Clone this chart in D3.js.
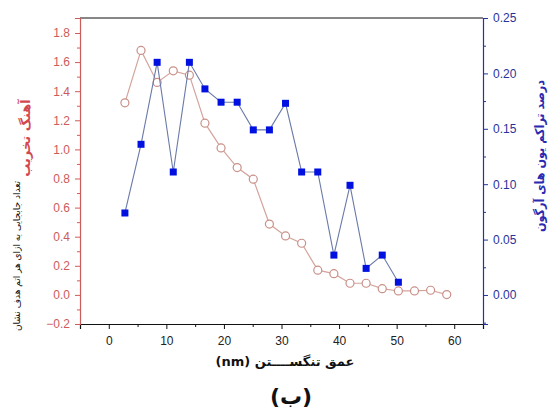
<!DOCTYPE html>
<html>
<head>
<meta charset="utf-8">
<script src="https://cdn.jsdelivr.net/npm/d3@7"></script>
<style>
  body { margin: 0; background: #fff; }
  text { font-family: "Liberation Sans", Arial, sans-serif; }
  .fa { font-family: "DejaVu Sans", sans-serif; }
</style>
</head>
<body>
<svg id="chart" width="549" height="412"></svg>
<script>
// depth in tungsten (nm)
var depth = [2.8, 5.6, 8.4, 11.2, 14.0, 16.7, 19.5, 22.3, 25.1, 27.9, 30.7,
             33.5, 36.3, 39.1, 41.9, 44.7, 47.5, 50.3, 53.1, 55.9, 58.7];
// damage rate (dpa), left axis
var damage = [1.32, 1.68, 1.46, 1.54, 1.51, 1.18, 1.01, 0.875, 0.795, 0.487, 0.405,
              0.355, 0.17, 0.146, 0.08, 0.08, 0.043, 0.027, 0.027, 0.032, 0.002];
// argon ion concentration, right axis (only first 18 depths)
var argon = [0.074, 0.136, 0.210, 0.111, 0.210, 0.186, 0.174, 0.174, 0.149,
             0.149, 0.173, 0.111, 0.111, 0.036, 0.099, 0.024, 0.036, 0.0115];

var xTicks = [0, 10, 20, 30, 40, 50, 60];
var leftTicks = [-0.2, 0, 0.2, 0.4, 0.6, 0.8, 1.0, 1.2, 1.4, 1.6, 1.8];
var rightTicks = [0, 0.05, 0.1, 0.15, 0.2, 0.25];

var redAxis = "#cc5b5b", blueAxis = "#27339a";

var svg = d3.select("#chart");
var m = {left: 80, right: 483, top: 18, bottom: 324};

var x = d3.scaleLinear().domain([-5, 65]).range([m.left, m.right]);
var yL = d3.scaleLinear().domain([-0.2, 1.903]).range([m.bottom, m.top]);
var yR = d3.scaleLinear().domain([-0.0262, 0.25]).range([m.bottom, m.top]);

// frame top
svg.append("line").attr("x1", m.left).attr("x2", m.right).attr("y1", m.top).attr("y2", m.top)
  .attr("stroke", "#111").attr("stroke-width", 1.2);

// x axis
var gx = svg.append("g").attr("transform", "translate(0," + m.bottom + ")")
  .call(d3.axisBottom(x).tickValues(xTicks).tickSize(5).tickPadding(7).tickFormat(d3.format("d")));
gx.select(".domain").attr("stroke", "#111").attr("stroke-width", 1.2);
gx.selectAll(".tick line").attr("stroke", "#111");
gx.selectAll("text").attr("font-size", 12).attr("fill", "#222").style("font-family", "Liberation Sans, Arial");
svg.append("g").attr("transform", "translate(0," + m.bottom + ")")
  .call(d3.axisBottom(x).tickValues([-5, 5, 15, 25, 35, 45, 55, 65]).tickSize(3).tickFormat(""))
  .call(function(g) { g.select(".domain").remove(); g.selectAll("line").attr("stroke", "#111"); });

// left axis
var gl = svg.append("g").attr("transform", "translate(" + m.left + ",0)")
  .call(d3.axisLeft(yL).tickValues(leftTicks).tickSize(5).tickPadding(5).tickFormat(d3.format(".1f")));
gl.select(".domain").attr("stroke", redAxis).attr("stroke-width", 1.2);
gl.selectAll(".tick line").attr("stroke", redAxis);
gl.selectAll("text").attr("font-size", 12).attr("fill", redAxis).style("font-family", "Liberation Sans, Arial");
svg.append("g").attr("transform", "translate(" + m.left + ",0)")
  .call(d3.axisLeft(yL).tickValues(d3.range(-0.1, 1.9, 0.2)).tickSize(3).tickFormat(""))
  .call(function(g) { g.select(".domain").remove(); g.selectAll("line").attr("stroke", redAxis); });

// right axis
var gr = svg.append("g").attr("transform", "translate(" + m.right + ",0)")
  .call(d3.axisRight(yR).tickValues(rightTicks).tickSize(5).tickPadding(5).tickFormat(d3.format(".2f")));
gr.select(".domain").attr("stroke", blueAxis).attr("stroke-width", 1.2);
gr.selectAll(".tick line").attr("stroke", blueAxis);
gr.selectAll("text").attr("font-size", 12).attr("fill", blueAxis).style("font-family", "Liberation Sans, Arial");
svg.append("g").attr("transform", "translate(" + m.right + ",0)")
  .call(d3.axisRight(yR).tickValues([-0.025, 0.025, 0.075, 0.125, 0.175, 0.225]).tickSize(3).tickFormat(""))
  .call(function(g) { g.select(".domain").remove(); g.selectAll("line").attr("stroke", blueAxis); });

// damage series (open circles)
var dmg = depth.map(function(d, i) { return [d, damage[i]]; });
svg.append("path").datum(dmg)
  .attr("fill", "none").attr("stroke", "#d3a49c").attr("stroke-width", 1.2)
  .attr("d", d3.line().x(function(d) { return x(d[0]); }).y(function(d) { return yL(d[1]); }));
svg.selectAll("circle.dmg").data(dmg).enter().append("circle").attr("class", "dmg")
  .attr("cx", function(d) { return x(d[0]); }).attr("cy", function(d) { return yL(d[1]); })
  .attr("r", 4).attr("fill", "#fff").attr("stroke", "#c99088").attr("stroke-width", 1.2);

// argon series (filled squares)
var ar = argon.map(function(v, i) { return [depth[i], v]; });
svg.append("path").datum(ar)
  .attr("fill", "none").attr("stroke", "#6a7aa8").attr("stroke-width", 1.1)
  .attr("d", d3.line().x(function(d) { return x(d[0]); }).y(function(d) { return yR(d[1]); }));
svg.selectAll("rect.ar").data(ar).enter().append("rect").attr("class", "ar")
  .attr("x", function(d) { return x(d[0]) - 3.5; }).attr("y", function(d) { return yR(d[1]) - 3.5; })
  .attr("width", 7).attr("height", 7).attr("fill", "#0010e0");

// titles
svg.append("text").attr("class", "fa")
  .attr("transform", "translate(30,138) rotate(-90)")
  .attr("text-anchor", "middle").attr("font-size", 13).attr("font-weight", "bold")
  .attr("fill", "#d2484f").text("آهنگ تخریب");
svg.append("text").attr("class", "fa")
  .attr("transform", "translate(20,256) rotate(-90)")
  .attr("text-anchor", "middle").attr("font-size", 9.5)
  .attr("fill", "#111").attr("textLength", 150).attr("lengthAdjust", "spacingAndGlyphs")
  .text("تعداد جابجایی به ازای هر اتم هدف نشان");
svg.append("text").attr("class", "fa")
  .attr("transform", "translate(544,156) rotate(-90)")
  .attr("text-anchor", "middle").attr("font-size", 12.5).attr("font-weight", "bold")
  .attr("fill", "#2a2ab0").attr("textLength", 152).attr("lengthAdjust", "spacingAndGlyphs")
  .text("درصد تراکم یون های آرگون");
svg.append("text").attr("class", "fa")
  .attr("x", 285).attr("y", 366).attr("text-anchor", "middle")
  .attr("direction", "rtl").style("unicode-bidi", "embed")
  .attr("font-size", 13).attr("font-weight", "bold").attr("fill", "#111")
  .text("عمق تنگســــتن (nm)");
svg.append("text").attr("class", "fa")
  .attr("x", 291).attr("y", 404).attr("text-anchor", "middle")
  .attr("font-size", 22).attr("font-weight", "bold").attr("fill", "#111")
  .text("(ب)");
</script>
</body>
</html>
